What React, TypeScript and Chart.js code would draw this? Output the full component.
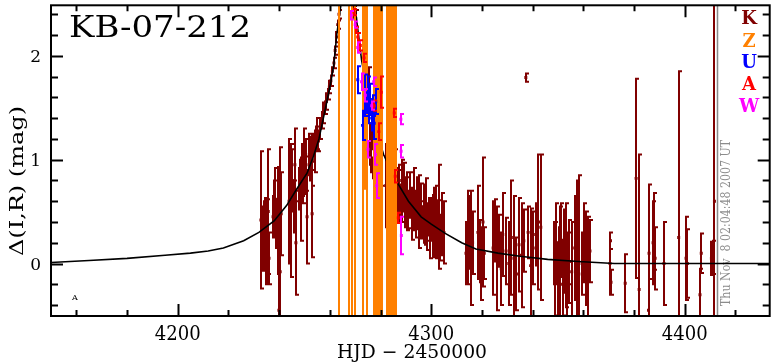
import React, { useEffect, useRef } from "react";
import { Chart, registerables } from "chart.js";
Chart.register(...registerables);

type P = [number, number, number];

const X_MIN = 4150;
const X_MAX = 4433.5;
const Y_MIN = -0.505;
const Y_MAX = 2.486;
const X_LABELS = [4200, 4300, 4400];
const Y_LABELS = [0, 1, 2];

const TITLE = "KB-07-212";
const X_TITLE = "HJD \u2212 2450000";
const Y_TITLE = "\u0394(I,R) (mag)";
const STAMP = "Thu Nov  8 02:04:48 2007 UT";
const SITES = ["K", "Z", "U", "A", "W"];
const SITE_COLORS = ["#800000", "#ff8000", "#0000ff", "#ff0000", "#ff00ff"];
const STAMP_HJD = 4412.6;
const OFF_Y = -0.562;

const MODEL_X = [4150, 4165, 4180, 4195, 4205, 4212, 4218, 4226, 4232, 4238, 4243, 4247, 4251, 4253.5, 4255.7, 4258.4, 4260.4, 4261.6, 4262.7, 4264.3, 4265.5, 4267, 4268.5, 4270, 4271.3, 4272.5, 4275.3, 4278, 4281.2, 4284, 4287.1, 4291, 4296, 4300, 4305.5, 4312, 4317.6, 4326.3, 4335, 4345.9, 4358, 4372.2, 4400, 4433.5];
const MODEL_Y = [0.01, 0.03, 0.05, 0.08, 0.1, 0.12, 0.15, 0.22, 0.3, 0.41, 0.56, 0.72, 0.87, 1.03, 1.2, 1.51, 1.75, 1.92, 2.2, 2.48, 2.7, 2.85, 2.75, 2.45, 2.2, 1.96, 1.58, 1.3, 1.05, 0.9, 0.76, 0.6, 0.45, 0.38, 0.29, 0.2, 0.14, 0.1, 0.07, 0.04, 0.02, 0.0, 0.0, 0.0];

const K_POINTS: P[] = [
  [4232.8, 0.42, 0.66], [4233.2, 0.25, 0.3], [4233.5, 0.35, 0.2], [4233.8, 0.18, 0.25], [4234.1, 0.42, 0.18], [4234.4, 0.28, 0.35], [4234.7, 0.1, 0.3], [4235.0, 0.38, 0.22], [4235.3, 0.22, 0.4], [4235.7, 0.5, 0.6], [4236.0, 0.05, 0.25],
  [4237.6, 0.45, 0.2], [4237.9, 0.55, 0.25], [4238.2, 0.4, 0.15], [4238.5, 0.62, 0.3], [4238.8, 0.35, 0.2], [4239.1, 0.5, 0.12], [4239.4, 0.58, 0.35], [4239.7, 0.2, 0.3], [4239.9, -0.45, 0.95], [4240.4, -0.08, 1.2], [4240.8, 0.48, 0.4],
  [4243.9, 0.6, 0.6], [4244.5, 0.51, 0.64], [4245.2, 0.8, 0.3], [4245.7, 0.55, 0.25], [4246.2, 0.95, 0.35], [4246.6, 0.2, 0.5], [4247.8, 0.72, 0.2], [4248.2, 0.85, 0.15], [4248.6, 0.62, 0.4], [4249.0, 0.9, 0.25], [4249.4, 0.78, 0.2], [4249.8, 1.0, 0.3], [4250.2, 0.85, 0.18], [4250.6, 0.95, 0.25], [4251.0, 0.45, 0.45], [4251.9, 1.05, 0.2], [4252.3, 0.95, 0.15], [4252.7, 1.1, 0.12], [4253.0, 0.48, 0.42], [4253.1, 1.0, 0.25], [4253.5, 1.15, 0.1], [4254.0, 1.08, 0.2], [4254.5, 1.2, 0.12], [4255.0, 1.25, 0.15], [4255.5, 1.18, 0.1],
  [4256.2, 1.3, 0.1], [4256.8, 1.38, 0.08], [4257.4, 1.45, 0.1], [4258.0, 1.5, 0.06], [4258.6, 1.56, 0.08], [4259.2, 1.63, 0.05], [4259.8, 1.7, 0.06], [4260.4, 1.76, 0.05], [4261.0, 1.85, 0.04], [4261.6, 1.93, 0.05], [4262.1, 2.05, 0.04], [4262.6, 2.18, 0.05], [4263.1, 2.3, 0.04], [4263.6, 2.4, 0.04], [4269.4, 2.42, 0.06], [4270.2, 2.36, 0.08],
  [4275.5, 1.72, 0.17], [4276.0, 1.15, 0.2], [4276.4, 1.0, 0.12], [4276.8, 1.25, 0.15], [4277.2, 0.92, 0.1], [4277.6, 1.1, 0.25], [4278.0, 0.85, 0.15], [4278.4, 1.05, 0.1], [4278.8, 0.95, 0.2], [4279.2, 0.8, 0.3], [4279.6, 1.2, 0.35], [4280.0, 0.9, 0.15], [4282.0, 0.75, 0.4], [4284.2, 0.95, 0.55], [4284.6, 0.9, 0.38], [4285.0, 0.65, 0.4], [4285.5, 0.75, 0.35], [4285.3, 1.05, 0.5],
  [4286.5, 0.72, 0.2], [4287.0, 0.65, 0.25], [4287.4, 0.8, 0.15], [4287.8, 0.58, 0.18], [4288.3, 0.7, 0.3], [4288.7, 0.62, 0.12], [4289.2, 0.75, 0.22], [4289.6, 0.55, 0.2], [4290.0, 0.68, 0.15], [4290.5, 0.6, 0.28], [4291.0, 0.52, 0.18], [4291.5, 0.66, 0.22], [4292.0, 0.58, 0.12], [4292.5, 0.48, 0.25], [4293.0, 0.62, 0.3], [4293.5, 0.55, 0.15], [4294.0, 0.45, 0.2], [4294.5, 0.58, 0.25], [4295.0, 0.5, 0.35], [4295.5, 0.42, 0.18], [4296.0, 0.55, 0.22], [4296.5, 0.4, 0.15], [4297.0, 0.48, 0.28], [4297.5, 0.38, 0.2], [4298.0, 0.52, 0.3], [4298.5, 0.35, 0.22], [4299.0, 0.45, 0.18], [4299.5, 0.3, 0.25], [4300.0, 0.42, 0.2], [4300.5, 0.36, 0.3], [4301.0, 0.48, 0.25], [4301.5, 0.28, 0.2], [4302.0, 0.4, 0.35], [4302.5, 0.33, 0.28], [4303.0, 0.45, 0.5], [4303.6, 0.25, 0.22], [4304.2, 0.38, 0.3], [4305.0, 0.3, 0.3],
  [4313.7, 0.1, 0.3], [4314.3, 0.25, 0.45], [4314.9, 0.3, 0.35], [4315.5, 0.15, 0.55], [4316.3, 0.2, 0.3],
  [4318.4, 0.3, 0.45], [4319.1, 0.12, 0.3], [4319.8, 0.0, 0.35], [4320.4, 0.4, 0.62], [4320.9, 0.1, 0.25],
  [4324.4, 0.15, 0.45], [4325.2, 0.32, 0.3], [4326.0, 0.05, 0.5], [4326.8, 0.22, 0.25], [4327.6, -0.05, 0.35], [4328.2, 0.28, 0.4],
  [4329.5, 0.12, 0.32], [4330.6, 0.0, 0.4], [4331.6, 0.25, 0.55], [4332.6, 0.05, 0.6], [4333.6, -0.1, 0.35], [4334.6, 0.18, 0.45], [4335.6, 0.08, 0.5], [4336.5, 0.22, 0.3], [4337.3, 1.79, 0.04], [4338.2, 0.3, 0.25], [4339.2, -0.02, 0.55], [4340.2, 0.15, 0.35], [4341.2, 0.28, 0.3], [4342.3, 0.4, 0.65], [4343.2, 0.35, 0.7],
  [4348.6, 0.1, 0.3], [4349.0, -0.05, 0.45], [4349.4, 0.2, 0.38], [4349.8, -0.15, 0.35], [4350.2, 0.15, 0.2], [4350.6, 0.0, 0.55], [4351.0, 0.25, 0.33], [4351.4, 0.05, 0.18], [4351.8, -0.2, 0.3], [4352.2, 0.12, 0.4], [4352.6, -0.02, 0.22], [4353.0, 0.08, 0.5], [4353.4, -0.25, 0.3], [4353.8, 0.05, 0.25],
  [4354.5, 0.02, 0.4], [4355.4, -0.08, 0.48], [4356.6, 0.15, 0.5], [4357.4, 0.05, 0.75], [4358.2, -0.1, 0.95], [4359.5, 0.0, 0.3], [4360.2, 0.2, 0.38], [4360.9, 0.05, 0.45], [4361.4, 0.25, 0.2], [4362.0, -0.1, 0.55], [4362.6, 0.12, 0.3],
  [4370.5, 0.0, 0.3], [4370.7, 0.22, 0.08], [4370.9, -0.18, 0.12], [4376.5, -0.19, 0.28], [4380.8, 0.82, 0.96], [4382.0, -0.25, 1.3], [4385.7, -0.45, 0.3], [4385.9, 0.1, 0.66], [4387.5, 0.2, 0.4], [4388.0, 0.31, 0.37], [4388.3, 0.05, 0.3], [4391.8, 0.0, 0.4], [4397.6, 0.25, 1.6], [4400.5, 0.05, 0.4], [4401.0, 0.0, 0.33], [4406.0, -0.3, 0.25], [4406.5, 0.1, 0.19], [4410.5, 0.05, 0.16], [4411.0, 0.06, 0.16], [4411.7, 0.6, 2.0],
];

const Z_POINTS: P[] = [
  [4263.5, 0.9, 3], [4267.5, 0.9, 3], [4268.6, 0.9, 3], [4269.8, 0.9, 3], [4272.9, 0.9, 3], [4273.7, 1.6, 0.88], [4274.7, 0.9, 3],
  [4277.5, 0.9, 3], [4277.9, 0.9, 3], [4278.3, 0.9, 3], [4278.8, 0.9, 3], [4279.3, 0.9, 3], [4279.7, 0.9, 3], [4280.2, 0.9, 3], [4280.7, 0.9, 3],
  [4282.7, 0.9, 3], [4283.4, 0.9, 3], [4283.9, 0.9, 3], [4284.4, 0.9, 3], [4284.9, 0.9, 3], [4285.4, 0.9, 3], [4285.9, 0.9, 3],
];
const U_POINTS: P[] = [
  [4271.0, 1.77, 0.13], [4272.9, 1.33, 0.14], [4274.0, 1.62, 0.2], [4274.6, 1.55, 0.1], [4275.2, 1.68, 0.12], [4275.6, 1.45, 0.1], [4276.0, 1.58, 0.15], [4276.5, 1.4, 0.12], [4277.0, 1.52, 0.1], [4277.5, 1.35, 0.15], [4278.1, 1.56, 0.12],
];
const A_POINTS: P[] = [
  [4269.6, 2.42, 0.03], [4270.5, 2.25, 0.03], [4271.0, 2.18, 0.04], [4272.0, 2.1, 0.05], [4273.5, 1.98, 0.04], [4277.5, 1.52, 0.05], [4279.3, 1.27, 0.08], [4280.3, 1.65, 0.15], [4285.4, 1.45, 0.04], [4285.8, 0.84, 0.06], [4287.0, 0.44, 0.05],
];
const W_POINTS: P[] = [
  [4268.5, 2.39, 0.04], [4270.0, 2.3, 0.03], [4271.0, 2.08, 0.05], [4272.5, 1.75, 0.08], [4274.0, 1.62, 0.06], [4275.0, 1.1, 0.08], [4276.5, 1.52, 0.04], [4277.3, 1.75, 0.04], [4278.0, 1.05, 0.1], [4278.5, 0.75, 0.12], [4288.0, 1.39, 0.05], [4288.1, 1.08, 0.06], [4288.2, 0.27, 0.18],
];
const OFF_Z = [4261.8, 4263.3, 4267.2, 4268.6, 4269.8, 4272.9, 4274.1, 4275.3, 4276.5, 4280.0, 4280.5, 4284.3, 4285.4, 4286.3];
const OFF_W = [4277.3, 4288.2];
const OFF_K = [4351.8, 4388.6];

const FONT = "'DejaVu Serif', 'Liberation Serif', serif";

function drawText(ctx: CanvasRenderingContext2D, s: string, x: number, y: number, o: any) {
  ctx.save();
  ctx.font = o.font;
  ctx.fillStyle = o.color || "#000";
  ctx.textAlign = o.align || "left";
  ctx.textBaseline = o.baseline || "alphabetic";
  ctx.translate(x, y);
  if (o.rot) ctx.rotate(o.rot);
  if (o.width) {
    const w = ctx.measureText(s).width;
    ctx.scale(o.width / w, 1);
  }
  ctx.fillText(s, 0, 0);
  ctx.restore();
}

const toPts = (arr: P[]) => arr.map(([x, y, e]) => ({ x, y, e }));

const decor = {
  id: "decor",
  beforeDatasetsDraw(chart: any) {
    const { ctx, chartArea: a, scales } = chart;
    const xs = scales.x;
    const px = Math.round(xs.getPixelForValue(STAMP_HJD)) + 0.5;
    ctx.save();
    ctx.strokeStyle = "#888888";
    ctx.lineWidth = 1.5;
    ctx.beginPath();
    ctx.moveTo(px, a.top);
    ctx.lineTo(px, a.bottom);
    ctx.stroke();
    ctx.restore();
    drawText(ctx, STAMP, px + 9, 223, { font: `12px ${FONT}`, color: "#8c8c8c", align: "center", baseline: "middle", rot: -Math.PI / 2, width: 166 });
  },
  afterDatasetDraw(chart: any, args: any) {
    const ds = chart.data.datasets[args.index];
    if (!ds.errBars) return;
    const { ctx, chartArea: a, scales } = chart;
    const xs = scales.x, ys = scales.y;
    ctx.save();
    ctx.beginPath();
    ctx.rect(a.left, a.top, a.right - a.left, a.bottom - a.top);
    ctx.clip();
    ctx.strokeStyle = ds.errColor;
    ctx.lineWidth = 2;
    ctx.beginPath();
    for (const d of ds.data) {
      const x = Math.round(xs.getPixelForValue(d.x));
      const t = ys.getPixelForValue(d.y + d.e);
      const b = ys.getPixelForValue(d.y - d.e);
      ctx.moveTo(x, t);
      ctx.lineTo(x, b);
      ctx.moveTo(x - 1, t);
      ctx.lineTo(x + 3, t);
      ctx.moveTo(x - 1, b);
      ctx.lineTo(x + 3, b);
    }
    ctx.stroke();
    ctx.restore();
  },
  afterDraw(chart: any) {
    const { ctx, chartArea: a, scales } = chart;
    const xs = scales.x, ys = scales.y;
    ctx.save();
    ctx.strokeStyle = "#000";
    ctx.lineWidth = 2;
    ctx.strokeRect(a.left, a.top, a.right - a.left, a.bottom - a.top);
    ctx.beginPath();
    for (let v = 4160; v <= 4420; v += 20) {
      const p = Math.round(xs.getPixelForValue(v)) + 0.5;
      const len = v % 100 === 0 ? 12 : 6;
      ctx.moveTo(p, a.bottom);
      ctx.lineTo(p, a.bottom - len);
      ctx.moveTo(p, a.top);
      ctx.lineTo(p, a.top + len);
    }
    for (let i = -2; i <= 12; i++) {
      const v = i / 5;
      const p = Math.round(ys.getPixelForValue(v)) + 0.5;
      const len = i % 5 === 0 ? 12 : 7;
      ctx.moveTo(a.left, p);
      ctx.lineTo(a.left + len, p);
      ctx.moveTo(a.right, p);
      ctx.lineTo(a.right - len, p);
    }
    ctx.stroke();
    ctx.restore();

    for (const v of X_LABELS) {
      drawText(ctx, String(v), xs.getPixelForValue(v), 340, { font: `20px ${FONT}`, align: "center", width: 46 });
    }
    for (const v of Y_LABELS) {
      drawText(ctx, String(v), 41, ys.getPixelForValue(v) + 6, { font: `17px ${FONT}`, align: "right" });
    }
    drawText(ctx, TITLE, 69, 37, { font: `30px ${FONT}`, width: 182 });
    drawText(ctx, X_TITLE, 412, 358, { font: `19px ${FONT}`, align: "center", width: 150 });
    drawText(ctx, Y_TITLE, 18, 181, { font: `19px ${FONT}`, align: "center", baseline: "middle", rot: -Math.PI / 2, width: 150 });
    const ly = [24, 47, 68, 90, 112];
    SITES.forEach((s, i) => {
      drawText(ctx, s, 749, ly[i], { font: `bold 18px ${FONT}`, color: SITE_COLORS[i], align: "center" });
    });
    drawText(ctx, "A", 72, 300, { font: `8px ${FONT}` });
  },
};

export default function App() {
  const ref = useRef<HTMLCanvasElement | null>(null);
  useEffect(() => {
    if (!ref.current) return;
    const site = (pts: P[], i: number, order: number, radius: number) => ({
      label: SITES[i],
      data: toPts(pts),
      backgroundColor: SITE_COLORS[i],
      borderColor: SITE_COLORS[i],
      pointStyle: "rect",
      pointRadius: radius,
      pointBorderWidth: 0,
      showLine: false,
      errBars: true,
      errColor: SITE_COLORS[i],
      order,
    });
    const off = (xsArr: number[], color: string) => ({
      label: "off",
      data: xsArr.map((x) => ({ x, y: OFF_Y })),
      pointStyle: "star",
      pointRadius: 3.5,
      pointBorderWidth: 1.3,
      borderColor: color,
      backgroundColor: color,
      showLine: false,
      clip: false,
      order: -1,
    });
    const chart = new Chart(ref.current, {
      type: "scatter",
      data: {
        datasets: [
          site(K_POINTS, 0, 6, 2.1),
          {
            label: "model",
            data: MODEL_X.map((x, i) => ({ x, y: MODEL_Y[i] })),
            showLine: true,
            borderColor: "#000",
            borderWidth: 1.6,
            pointRadius: 0,
            tension: 0,
            order: 5,
          },
          site(Z_POINTS, 1, 4, 0),
          site(U_POINTS, 2, 3, 2.1),
          site(A_POINTS, 3, 2, 2.1),
          site(W_POINTS, 4, 1, 2.1),
          off(OFF_Z, SITE_COLORS[1]),
          off(OFF_W, SITE_COLORS[4]),
          off(OFF_K, SITE_COLORS[0]),
        ] as any,
      },
      options: {
        animation: false,
        responsive: false,
        maintainAspectRatio: false,
        devicePixelRatio: 1,
        events: [],
        layout: { padding: { top: 2, right: 2, left: 0, bottom: 0 } },
        plugins: { legend: { display: false }, tooltip: { enabled: false } },
        scales: {
          x: {
            type: "linear",
            min: X_MIN,
            max: X_MAX,
            grid: { display: false, drawTicks: false },
            border: { display: false },
            ticks: { display: false },
            afterFit: (s: any) => { s.height = 46; },
          },
          y: {
            type: "linear",
            min: Y_MIN,
            max: Y_MAX,
            grid: { display: false, drawTicks: false },
            border: { display: false },
            ticks: { display: false },
            afterFit: (s: any) => { s.width = 51; },
          },
        },
      } as any,
      plugins: [decor],
    });
    return () => chart.destroy();
  }, []);
  return (
    <div style={{ position: "fixed", left: 0, top: 0, width: 775, height: 362, background: "#fff" }}>
      <canvas ref={ref} width={775} height={362} style={{ display: "block", width: 775, height: 362 }} />
    </div>
  );
}
